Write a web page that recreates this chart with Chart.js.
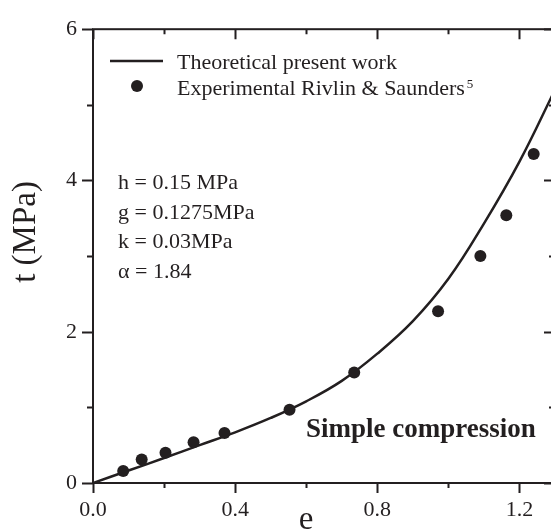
<!DOCTYPE html>
<html>
<head>
<meta charset="utf-8">
<script src="https://cdn.jsdelivr.net/npm/chart.js@4"></script>
<style>
  html, body { margin: 0; padding: 0; background: #fff; overflow: hidden; }
</style>
</head>
<body>
<canvas id="chart" width="561" height="530"></canvas>
<script>
// --- dane ---
const theoryE = [0, 0.1, 0.2, 0.3, 0.4, 0.5, 0.6, 0.7, 0.8, 0.9, 1.0, 1.1, 1.2, 1.3];
const theoryT = [0, 0.165, 0.33, 0.50, 0.67, 0.86, 1.08, 1.35, 1.71, 2.14, 2.70, 3.43, 4.25, 5.20];

const expE = [0.085, 0.137, 0.204, 0.283, 0.370, 0.553, 0.735, 0.971, 1.090, 1.163, 1.240];
const expT = [0.16, 0.31, 0.40, 0.54, 0.66, 0.97, 1.46, 2.27, 3.00, 3.54, 4.35];

const xMajor = [0, 0.4, 0.8, 1.2];
const xMinor = [0.2, 0.6, 1.0];
const yMajor = [0, 2, 4, 6];
const yMinor = [1, 3, 5];

const legendLabels = ['Theoretical present work', 'Experimental Rivlin & Saunders'];
const paramLines = ['h = 0.15 MPa', 'g = 0.1275MPa', 'k = 0.03MPa', 'α = 1.84'];

const INK = '#231f20';
const SERIF = "'Liberation Serif', 'Times New Roman', serif";

// --- rama, ticki, legenda i napisy ---
const decorations = {
  id: 'decorations',
  afterDraw(chart) {
    const ctx = chart.ctx;
    const a = chart.chartArea;
    const xs = chart.scales.x, ys = chart.scales.y;
    ctx.save();
    ctx.strokeStyle = INK;
    ctx.fillStyle = INK;

    // rama
    ctx.lineWidth = 2;
    ctx.strokeRect(a.left, a.top, a.right - a.left, a.bottom - a.top);

    // ticki na osi X (dół na zewnątrz, góra do środka)
    const tickX = (v, len) => {
      const px = Math.round(xs.getPixelForValue(v)) + 0.5;
      ctx.beginPath();
      ctx.moveTo(px, a.bottom); ctx.lineTo(px, a.bottom + len);
      ctx.moveTo(px, a.top); ctx.lineTo(px, a.top + len);
      ctx.stroke();
    };
    // ticki na osi Y (lewa na zewnątrz, prawa do środka)
    const tickY = (v, len) => {
      const py = Math.round(ys.getPixelForValue(v)) + 0.5;
      ctx.beginPath();
      ctx.moveTo(a.left, py); ctx.lineTo(a.left - len, py);
      ctx.moveTo(a.right, py); ctx.lineTo(a.right - len, py);
      ctx.stroke();
    };
    xMajor.forEach(v => tickX(v, 10));
    xMinor.forEach(v => tickX(v, 5));
    yMajor.forEach(v => tickY(v, 11));
    yMinor.forEach(v => tickY(v, 6));

    // legenda
    ctx.lineWidth = 2.5;
    ctx.beginPath();
    ctx.moveTo(110, 61); ctx.lineTo(163, 61);
    ctx.stroke();
    ctx.beginPath();
    ctx.arc(137, 86, 6, 0, Math.PI * 2);
    ctx.fill();

    ctx.font = `22px ${SERIF}`;
    ctx.textAlign = 'left';
    ctx.textBaseline = 'alphabetic';
    ctx.fillText(legendLabels[0], 177, 69);
    ctx.fillText(legendLabels[1], 177, 95);
    const w = ctx.measureText(legendLabels[1]).width;
    ctx.font = `13px ${SERIF}`;
    ctx.fillText('5', 177 + w + 2, 88);

    // parametry
    ctx.font = `22px ${SERIF}`;
    paramLines.forEach((t, i) => ctx.fillText(t, 118, 189 + i * 29.5));

    // napis
    ctx.font = `bold 27px ${SERIF}`;
    ctx.fillText('Simple compression', 306, 437);

    // tytuły osi
    ctx.font = `33px ${SERIF}`;
    ctx.textAlign = 'center';
    ctx.fillText('e', 306, 529);

    ctx.save();
    ctx.translate(35, 232);
    ctx.rotate(-Math.PI / 2);
    ctx.fillText('t (MPa)', 0, 0);
    ctx.restore();

    ctx.restore();
  }
};

const ctx = document.getElementById('chart').getContext('2d');
new Chart(ctx, {
  type: 'scatter',
  data: {
    datasets: [
      {
        label: legendLabels[0],
        data: theoryE.map((e, i) => ({ x: e, y: theoryT[i] })),
        showLine: true,
        borderColor: INK,
        borderWidth: 2.5,
        pointRadius: 0,
        tension: 0.4,
        order: 2
      },
      {
        label: legendLabels[1],
        data: expE.map((e, i) => ({ x: e, y: expT[i] })),
        showLine: false,
        pointRadius: 6,
        pointBackgroundColor: INK,
        pointBorderWidth: 0,
        order: 1
      }
    ]
  },
  options: {
    responsive: false,
    animation: false,
    layout: { padding: { top: 23, right: 1.5, left: 0, bottom: 0 } },
    plugins: {
      legend: { display: false },
      tooltip: { enabled: false }
    },
    scales: {
      x: {
        type: 'linear',
        min: 0,
        max: 1.3,
        grid: { display: false, drawTicks: false },
        border: { display: false },
        afterBuildTicks: s => { s.ticks = xMajor.map(v => ({ value: v })); },
        afterFit: s => { s.height = 47; },
        ticks: {
          padding: 14,
          color: INK,
          font: { family: SERIF, size: 22 },
          callback: v => v.toFixed(1)
        }
      },
      y: {
        type: 'linear',
        min: 0,
        max: 6,
        grid: { display: false, drawTicks: false },
        border: { display: false },
        afterBuildTicks: s => { s.ticks = yMajor.map(v => ({ value: v })); },
        afterFit: s => { s.width = 93; },
        ticks: {
          padding: 16,
          color: INK,
          font: { family: SERIF, size: 22 },
          callback: v => String(v)
        }
      }
    }
  },
  plugins: [decorations]
});
</script>
</body>
</html>
